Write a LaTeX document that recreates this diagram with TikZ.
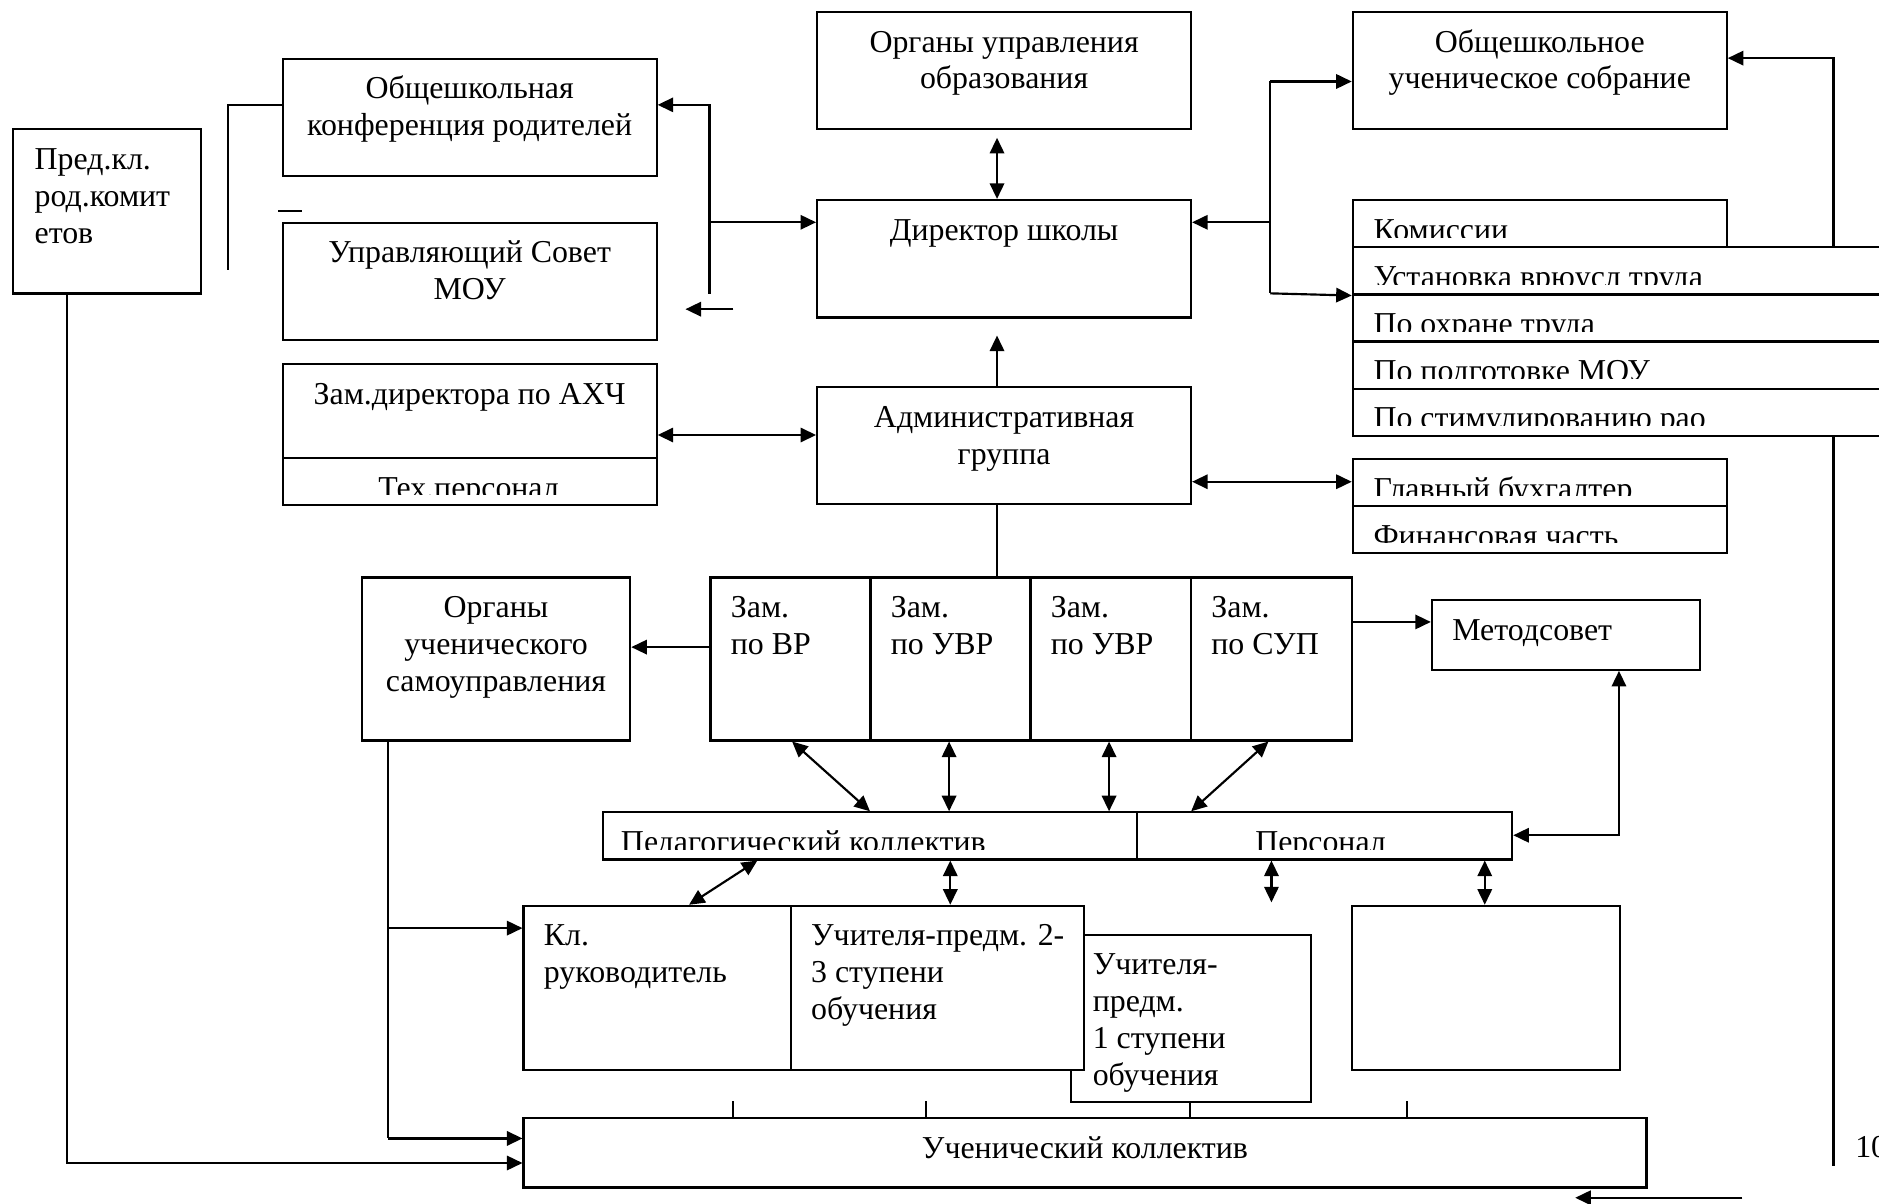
\documentclass[tikz,border=0pt]{standalone}
\usepackage{fontspec}
\setmainfont{Liberation Serif}
\usetikzlibrary{arrows.meta,calc}
\newcommand\fsz{\fontsize{26.6pt}{30.8pt}\selectfont}
\newcommand\cbx[3]{\parbox[t][#2][t]{#1}{\centering\rule{0pt}{33.5pt}#3}}
\newcommand\lbx[4]{\parbox[t][#2][t]{#1}{\raggedright\leftskip=#3\relax\rule{0pt}{33.5pt}#4}}
\tikzset{
  box/.style={draw, line width=1.8pt, fill=white, inner sep=0pt, anchor=north west, font=\fsz},
  rowbox/.style={draw, line width=1.8pt, fill=white, inner sep=0pt, anchor=north west, minimum height=39.3pt},
  rowtxt/.style={anchor=base west, inner sep=0pt, font=\fsz},
  ln/.style={line width=1.8pt},
  arr/.style={line width=1.8pt, -{Triangle[length=13pt,width=12pt]}},
  darr/.style={line width=1.8pt, {Triangle[length=13pt,width=12pt]}-{Triangle[length=13pt,width=12pt]}}
}
\begin{document}
\begin{tikzpicture}[x=1pt,y=-1pt]
\useasboundingbox (0,0) rectangle (1568,1004);
\fill[white] (0,0) rectangle (1568,1004);
\clip (0,0) rectangle (1568,1004);

% top row
\node[box] (orgupr) at (681,9) {\cbx{312pt}{98pt}{Органы управления\\образования}};
\node[box] (conf) at (235,48) {\cbx{312pt}{98pt}{Общешкольная\\конференция родителей}};
\node[box] (sobr) at (1128,9) {\cbx{312pt}{98pt}{Общешкольное\\ученическое собрание}};
\node[box] (pred) at (10,107) {\lbx{157pt}{137pt}{18pt}{Пред.кл.\\род.комит\\етов}};
\node[box] (usov) at (235,185) {\cbx{312pt}{98pt}{Управляющий Совет\\МОУ}};
\node[box] (dir) at (681,166) {\cbx{312pt}{98pt}{Директор школы}};
\node[box] (adm) at (681,322) {\cbx{312pt}{98pt}{Административная\\группа}};

% AXCh
\node[box] (axch) at (235,303) {\cbx{312pt}{78pt}{Зам.директора по АХЧ}};
\node[rowbox, minimum width=312pt] (tex) at (235,381) {};
\begin{scope}
\clip (235,381) rectangle (547,412.5);
\node[rowtxt, anchor=base] (textx) at (391,416) {Тех.персонал};
\end{scope}

% commissions
\node[rowbox, minimum width=312pt] (kom) at (1128,166) {};
\node[rowbox, minimum width=480pt] (r1) at (1128,205.5) {};
\node[rowbox, minimum width=480pt] (r2) at (1128,244.8) {};
\node[rowbox, minimum width=480pt] (r3) at (1128,284.1) {};
\node[rowbox, minimum width=480pt] (r4) at (1128,323.4) {};
\begin{scope}
\clip (1128,166) rectangle (1440,198);
\node[rowtxt] (tkom) at (1146,200.5) {Комиссии};
\end{scope}
\begin{scope}
\clip (1128,205.5) rectangle (1568,237.3);
\node[rowtxt] (tr1) at (1146,240) {Установка врюусл труда};
\end{scope}
\begin{scope}
\clip (1128,244.8) rectangle (1568,276.6);
\node[rowtxt] (tr2) at (1146,279.3) {По охране труда};
\end{scope}
\begin{scope}
\clip (1128,284.1) rectangle (1568,315.9);
\node[rowtxt] (tr3) at (1146,318.6) {По подготовке МОУ};
\end{scope}
\begin{scope}
\clip (1128,323.4) rectangle (1568,355.2);
\node[rowtxt] (tr4) at (1146,357.9) {По стимулированию рао};
\end{scope}

% accountant
\node[rowbox, minimum width=312pt] (buh) at (1128,382) {};
\node[rowbox, minimum width=312pt] (fin) at (1128,421.2) {};
\begin{scope}
\clip (1128,382) rectangle (1440,413.8);
\node[rowtxt] (tbuh) at (1146,416.5) {Главный бухгалтер};
\end{scope}
\begin{scope}
\clip (1128,421.2) rectangle (1440,453);
\node[rowtxt] (tfin) at (1146,455.7) {Финансовая часть};
\end{scope}

% deputies
\node[box] (zam1) at (592,481) {\lbx{133.5pt}{136pt}{17pt}{Зам.\\по ВР}};
\node[box] (zam2) at (725.5,481) {\lbx{133.5pt}{136pt}{17pt}{Зам.\\по УВР}};
\node[box] (zam3) at (859,481) {\lbx{134pt}{136pt}{17pt}{Зам.\\по УВР}};
\node[box] (zam4) at (993,481) {\lbx{134pt}{136pt}{17pt}{Зам.\\по СУП}};
\node[box] (metod) at (1194,500) {\lbx{224pt}{58pt}{17pt}{Методсовет}};
\node[box] (orguch) at (301,481) {\cbx{224pt}{136pt}{Органы\\ученического\\самоуправления}};

% staff bar
\node[rowbox, minimum width=446pt] (ped) at (502,677) {};
\node[rowbox, minimum width=313pt] (pers) at (948,677) {};
\begin{scope}
\clip (502,677) rectangle (948,708.5);
\node[rowtxt] (tped) at (518,711) {Педагогический коллектив};
\end{scope}
\begin{scope}
\clip (948,677) rectangle (1261,708.5);
\node[rowtxt, anchor=base] (tpers) at (1102,711) {Персонал};
\end{scope}

% teachers
\node[box] (uch1) at (893,779) {\lbx{200pt}{140pt}{18pt}{Учителя-\\предм.\\1 ступени\\обучения}};
\node[box] (kl) at (436,755) {\lbx{223pt}{137pt}{17pt}{Кл.\\руководитель}};
\node[box] (uch23) at (659,755) {\lbx{245pt}{137pt}{17pt}{Учителя-предм. 2-\\3 ступени\\обучения}};
\node[box, minimum width=224pt, minimum height=137pt] (empt) at (1127,755) {};
\node[box] (uchkol) at (436,932) {\cbx{937pt}{58pt}{Ученический коллектив}};

% connectors
\coordinate (lt) at (190,225);
\draw[ln] (conf.west |- 0,87.5) -- (190,87.5) -- (lt);
\coordinate (dsa) at (232,176);
\coordinate (dsb) at (252,176);
\draw[ln] (dsa) -- (dsb);
\coordinate (lv) at (592,245);
\draw[arr] (lv) -- (592,87.5) -- (conf.east |- 0,87.5);
\draw[arr] (592,185.5) -- (dir.west |- 0,185.5);
\coordinate (sa) at (612,258);
\coordinate (sb) at (572,258);
\draw[arr] (sa) -- (sb);
\draw[darr] (832,115) -- (dir.north -| 832,0);
\draw[arr] (adm.north -| 832,0) -- (832,280);
\draw[ln] (1060,68) -- (1060,244.8);
\draw[arr] (1060,68) -- (sobr.west |- 0,68);
\draw[arr] (1060,185.5) -- (dir.east |- 0,185.5);
\draw[arr] (1060,244.8) -- (r1.south west);
\draw[arr] (r1.north -| 1530,0) -- (1530,48.5) -- (sobr.east |- 0,48.5);
\coordinate (rb) at (1530,973);
\draw[ln] (r4.south -| 1530,0) -- (rb);
\draw[darr] (axch.east |- 0,363) -- (adm.west |- 0,363);
\draw[darr] (adm.east |- 0,402) -- (buh.west |- 0,402);
\draw[ln] (adm.south -| 832,0) -- (zam2.north -| 832,0);
\draw[arr] (zam4.east |- 0,519) -- (metod.west |- 0,519);
\draw[arr] (zam1.west |- 0,540) -- (orguch.east |- 0,540);
\draw[darr] (zam1.south -| 661,0) -- (ped.north -| 726,0);
\draw[darr] (zam2.south -| 792,0) -- (ped.north -| 792,0);
\draw[darr] (zam3.south -| 925.5,0) -- (ped.north -| 925.5,0);
\draw[darr] (zam4.south -| 1058.5,0) -- (pers.north -| 994,0);
\draw[darr] (metod.south -| 1351,0) -- (1351,697) -- (pers.east |- 0,697);
\draw[darr] (ped.south -| 632,0) -- (kl.north -| 575,0);
\draw[darr] (ped.south -| 793,0) -- (uch23.north -| 793,0);
\coordinate (pe) at (1061,753);
\draw[darr] (pers.south -| 1061,0) -- (pe);
\draw[darr] (pers.south -| 1239,0) -- (empt.north -| 1239,0);
\draw[ln] (orguch.south -| 324,0) -- (324,950);
\draw[arr] (324,774.5) -- (kl.west |- 0,774.5);
\draw[arr] (324,950) -- (uchkol.west |- 0,950);
\draw[arr] (pred.south -| 56,0) -- (56,970.5) -- (uchkol.west |- 0,970.5);
\draw[ln] (612,919) -- (uchkol.north -| 612,0);
\draw[ln] (773,919) -- (uchkol.north -| 773,0);
\draw[ln] (uch1.south -| 993,0) -- (uchkol.north -| 993,0);
\draw[ln] (1174,919) -- (uchkol.north -| 1174,0);
\coordinate (ba) at (1454,999.5);
\coordinate (bb) at (1314.5,999.5);
\draw[arr] (ba) -- (bb);
\node[font=\fsz, anchor=base west, inner sep=0pt] (pg) at (1548,966) {10};
\end{tikzpicture}
\end{document}
